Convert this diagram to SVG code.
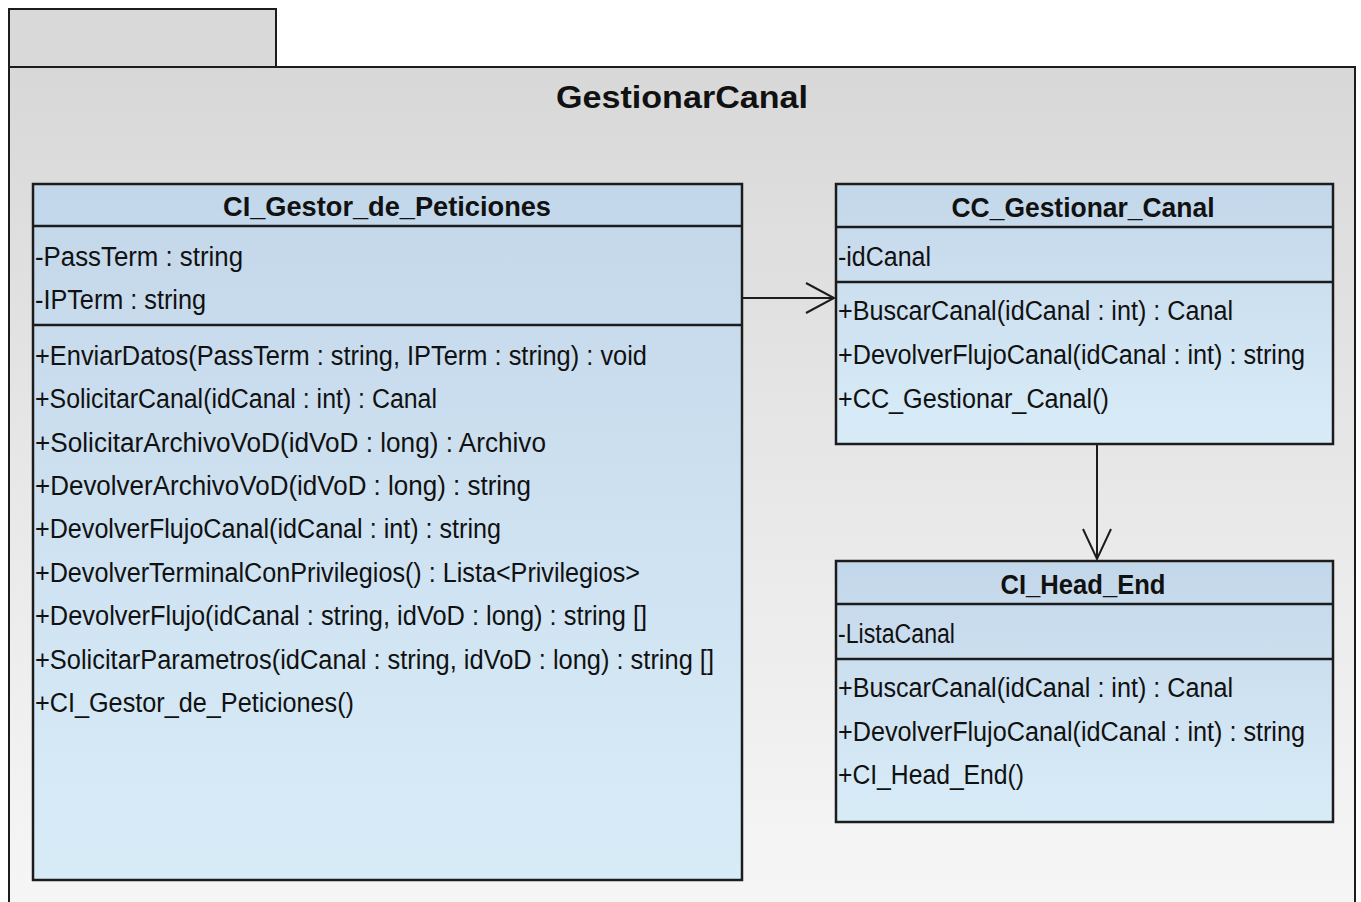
<svg xmlns="http://www.w3.org/2000/svg" width="1361" height="902" viewBox="0 0 1361 902">
  <defs>
    <linearGradient id="pkgFill" x1="0" y1="0" x2="0" y2="1">
      <stop offset="0" stop-color="#d8d8d8"/>
      <stop offset="0.5" stop-color="#e8e8e8"/>
      <stop offset="1" stop-color="#f6f6f6"/>
    </linearGradient>
    <linearGradient id="clsFill" x1="0" y1="0" x2="0" y2="1">
      <stop offset="0" stop-color="#c3d7ea"/>
      <stop offset="1" stop-color="#d8ecf8"/>
    </linearGradient>
    <style>
      .frame { stroke: #1c1c1c; stroke-width: 2; }
      .cls { fill: url(#clsFill); stroke: #1c1c1c; stroke-width: 2.5; }
      .sep { stroke: #1c1c1c; stroke-width: 2.5; }
      .title { font-family: "Liberation Sans", Arial, sans-serif; font-weight: bold; font-size: 28px; fill: #111; text-anchor: middle; }
      .pkgtitle { font-family: "Liberation Sans", Arial, sans-serif; font-weight: bold; font-size: 31px; fill: #111; text-anchor: middle; }
      .item { font-family: "Liberation Sans", Arial, sans-serif; font-size: 27px; fill: #111; }
      .edge { stroke: #1c1c1c; stroke-width: 2; fill: none; }
    </style>
  </defs>

  <rect width="1361" height="902" fill="#ffffff"/>

  <!-- package frame -->
  <g id="pkg-GestionarCanal">
    <rect class="frame" x="9" y="9" width="267" height="58" fill="#d9d9d9"/>
    <rect class="frame" x="9" y="67" width="1346" height="845" fill="url(#pkgFill)"/>
    <text class="pkgtitle" x="682" y="108" textLength="252" lengthAdjust="spacingAndGlyphs">GestionarCanal</text>
  </g>

  <!-- class CI_Gestor_de_Peticiones -->
  <g id="CI_Gestor_de_Peticiones">
    <rect class="cls" x="33" y="184" width="709" height="696"/>
    <line class="sep" x1="33" y1="226" x2="742" y2="226"/>
    <line class="sep" x1="33" y1="325" x2="742" y2="325"/>
    <text class="title" x="387" y="216" textLength="328" lengthAdjust="spacingAndGlyphs">CI_Gestor_de_Peticiones</text>
    <text class="item" x="35" y="266" textLength="208" lengthAdjust="spacingAndGlyphs">-PassTerm : string</text>
    <text class="item" x="35" y="309" textLength="171" lengthAdjust="spacingAndGlyphs">-IPTerm : string</text>
    <text class="item" x="35" y="365" textLength="612" lengthAdjust="spacingAndGlyphs">+EnviarDatos(PassTerm : string, IPTerm : string) : void</text>
    <text class="item" x="35" y="408" textLength="402" lengthAdjust="spacingAndGlyphs">+SolicitarCanal(idCanal : int) : Canal</text>
    <text class="item" x="35" y="452" textLength="511" lengthAdjust="spacingAndGlyphs">+SolicitarArchivoVoD(idVoD : long) : Archivo</text>
    <text class="item" x="35" y="495" textLength="496" lengthAdjust="spacingAndGlyphs">+DevolverArchivoVoD(idVoD : long) : string</text>
    <text class="item" x="35" y="538" textLength="466" lengthAdjust="spacingAndGlyphs">+DevolverFlujoCanal(idCanal : int) : string</text>
    <text class="item" x="35" y="582" textLength="605" lengthAdjust="spacingAndGlyphs">+DevolverTerminalConPrivilegios() : Lista&lt;Privilegios&gt;</text>
    <text class="item" x="35" y="625" textLength="612" lengthAdjust="spacingAndGlyphs">+DevolverFlujo(idCanal : string, idVoD : long) : string []</text>
    <text class="item" x="35" y="669" textLength="679" lengthAdjust="spacingAndGlyphs">+SolicitarParametros(idCanal : string, idVoD : long) : string []</text>
    <text class="item" x="35" y="712" textLength="319" lengthAdjust="spacingAndGlyphs">+CI_Gestor_de_Peticiones()</text>
  </g>

  <!-- class CC_Gestionar_Canal -->
  <g id="CC_Gestionar_Canal">
    <rect class="cls" x="836" y="184" width="497" height="260"/>
    <line class="sep" x1="836" y1="227" x2="1333" y2="227"/>
    <line class="sep" x1="836" y1="282" x2="1333" y2="282"/>
    <text class="title" x="1083" y="217" textLength="263" lengthAdjust="spacingAndGlyphs">CC_Gestionar_Canal</text>
    <text class="item" x="838" y="266" textLength="93" lengthAdjust="spacingAndGlyphs">-idCanal</text>
    <text class="item" x="838" y="320" textLength="395" lengthAdjust="spacingAndGlyphs">+BuscarCanal(idCanal : int) : Canal</text>
    <text class="item" x="838" y="364" textLength="467" lengthAdjust="spacingAndGlyphs">+DevolverFlujoCanal(idCanal : int) : string</text>
    <text class="item" x="838" y="408" textLength="271" lengthAdjust="spacingAndGlyphs">+CC_Gestionar_Canal()</text>
  </g>

  <!-- class CI_Head_End -->
  <g id="CI_Head_End">
    <rect class="cls" x="836" y="561" width="497" height="261"/>
    <line class="sep" x1="836" y1="604" x2="1333" y2="604"/>
    <line class="sep" x1="836" y1="659" x2="1333" y2="659"/>
    <text class="title" x="1083" y="594" textLength="165" lengthAdjust="spacingAndGlyphs">CI_Head_End</text>
    <text class="item" x="838" y="643" textLength="117" lengthAdjust="spacingAndGlyphs">-ListaCanal</text>
    <text class="item" x="838" y="697" textLength="395" lengthAdjust="spacingAndGlyphs">+BuscarCanal(idCanal : int) : Canal</text>
    <text class="item" x="838" y="741" textLength="467" lengthAdjust="spacingAndGlyphs">+DevolverFlujoCanal(idCanal : int) : string</text>
    <text class="item" x="838" y="784" textLength="186" lengthAdjust="spacingAndGlyphs">+CI_Head_End()</text>
  </g>

  <!-- navigable associations -->
  <g id="connectors">
    <line class="edge" x1="743" y1="298" x2="834" y2="298"/>
    <polyline class="edge" points="806,283 834,298 806,313"/>
    <line class="edge" x1="1097" y1="445" x2="1097" y2="559"/>
    <polyline class="edge" points="1083,529 1097,559 1111,529"/>
  </g>
</svg>
